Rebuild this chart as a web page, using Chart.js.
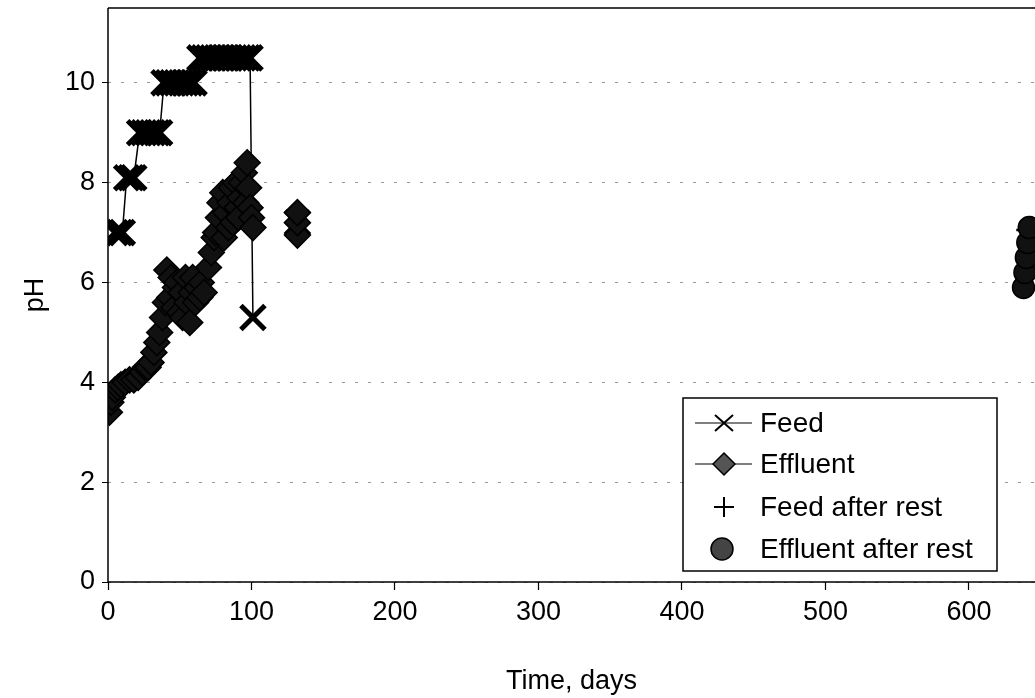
<!DOCTYPE html>
<html>
<head>
<meta charset="utf-8">
<script src="https://cdn.jsdelivr.net/npm/chart.js@4.4.0/dist/chart.umd.min.js"></script>
<style>
html, body { margin: 0; padding: 0; background: #fff; }
</style>
</head>
<body>
<canvas id="phChart" width="1035" height="698"></canvas>
<script>
// values (days, pH)
const feedDays = [5, 8, 10, 13, 16, 18, 22, 25, 28, 31, 34, 36, 39, 42, 45, 48, 51, 54, 57, 60, 64, 67, 70, 73, 76, 79, 82, 85, 88, 91, 94, 97, 99, 101, 115, 132];
const feedPH   = [7, 7, 7, 8.1, 8.1, 8.1, 9, 9, 9, 9, 9, 9, 10, 10, 10, 10, 10, 10, 10, 10, 10.5, 10.5, 10.5, 10.5, 10.5, 10.5, 10.5, 10.5, 10.5, 10.5, 10.5, 10.5, 10.5, 5.3, null, 7.2];

const effluentDays = [1, 2, 3, 5, 7, 9, 12, 15, 18, 21, 24, 26, 28, 30, 32, 34, 36, 38, 40, 41, 43, 44, 46, 47, 48, 50, 51, 52, 54, 55, 57, 58, 59, 61, 62, 64, 65, 67,
                      70, 72, 74, 75, 77, 78, 80, 81, 82, 84, 85, 86, 87, 89, 90, 91, 92, 93, 95, 96, 97, 98, 99, 100, 101, 115, 132, 132, 132];
const effluentPH   = [3.4, 3.6, 3.7, 3.85, 3.9, 3.95, 4.0, 4.05, 4.05, 4.1, 4.2, 4.3, 4.3, 4.4, 4.6, 4.8, 5.0, 5.3, 5.6, 6.25, 5.7, 6.1, 5.5, 5.9, 6.0, 5.4, 5.8, 5.3, 6.1, 5.6, 5.2, 5.8, 6.1, 5.6, 5.9, 5.7, 6.0, 5.8,
                      6.3, 6.6, 6.9, 7.0, 7.3, 7.6, 7.8, 6.9, 7.4, 7.1, 7.6, 7.9, 7.2, 8.0, 7.5, 7.3, 7.7, 8.0, 8.2, 7.6, 8.4, 7.9, 7.5, 7.3, 7.1, null, 6.95, 7.2, 7.4];

const feedRestDays = [642];
const feedRestPH   = [7.05];

const effluentRestDays = [638, 639, 640, 641, 642];
const effluentRestPH   = [5.9, 6.2, 6.5, 6.8, 7.1];

const seriesNames = ['Feed', 'Effluent', 'Feed after rest', 'Effluent after rest'];

function toPoints(xs, ys) {
    return xs.map((x, i) => ({ x: x, y: ys[i] }));
}

const font = 'Liberation Sans, Arial, sans-serif';

// legend box, axis lines and top frame line
const frameAndLegend = {
    id: 'frameAndLegend',
    afterDatasetsDraw(chart) {
        const ctx = chart.ctx;
        const area = chart.chartArea;
        ctx.save();
        ctx.strokeStyle = '#000';
        ctx.lineWidth = 1.5;
        ctx.setLineDash([]);
        ctx.beginPath();
        ctx.moveTo(area.left, area.top);
        ctx.lineTo(area.right, area.top);
        ctx.moveTo(area.left, area.top);
        ctx.lineTo(area.left, area.bottom);
        ctx.lineTo(area.right, area.bottom);
        ctx.stroke();

        // legend
        const bx = 683, by = 398, bw = 314, bh = 173;
        ctx.fillStyle = '#fff';
        ctx.fillRect(bx, by, bw, bh);
        ctx.strokeRect(bx, by, bw, bh);

        const rowY = [423, 464, 507, 549];
        const sx = 724;
        ctx.font = '28px ' + font;
        ctx.textBaseline = 'middle';
        ctx.textAlign = 'left';
        seriesNames.forEach((name, i) => {
            const y = rowY[i];
            ctx.strokeStyle = '#000';
            ctx.fillStyle = '#000';
            if (i < 2) {
                ctx.lineWidth = 1.2;
                ctx.beginPath();
                ctx.moveTo(695, y);
                ctx.lineTo(752, y);
                ctx.stroke();
            }
            ctx.lineWidth = 2;
            ctx.beginPath();
            if (i === 0) {
                ctx.moveTo(sx - 9, y - 8); ctx.lineTo(sx + 9, y + 8);
                ctx.moveTo(sx - 9, y + 8); ctx.lineTo(sx + 9, y - 8);
                ctx.stroke();
            } else if (i === 1) {
                ctx.moveTo(sx - 11, y); ctx.lineTo(sx, y - 11);
                ctx.lineTo(sx + 11, y); ctx.lineTo(sx, y + 11);
                ctx.closePath();
                ctx.fillStyle = '#555';
                ctx.fill();
                ctx.lineWidth = 1.5;
                ctx.stroke();
            } else if (i === 2) {
                ctx.moveTo(sx - 10, y); ctx.lineTo(sx + 10, y);
                ctx.moveTo(sx, y - 10); ctx.lineTo(sx, y + 10);
                ctx.stroke();
            } else {
                ctx.arc(sx - 2, y, 11, 0, Math.PI * 2);
                ctx.fillStyle = '#444';
                ctx.fill();
                ctx.lineWidth = 1.5;
                ctx.stroke();
            }
            ctx.fillStyle = '#000';
            ctx.fillText(name, 760, y + 1);
        });
        ctx.restore();
    }
};

function noEdgePadding(scale) {
    scale.paddingLeft = 0;
    scale.paddingRight = 0;
    scale.paddingTop = 0;
    scale.paddingBottom = 0;
}

const ctx = document.getElementById('phChart').getContext('2d');
const phChart = new Chart(ctx, {
    type: 'scatter',
    data: {
        datasets: [{
            label: seriesNames[0],
            data: toPoints(feedDays, feedPH),
            showLine: true,
            borderColor: '#000',
            borderWidth: 1.5,
            pointStyle: 'crossRot',
            pointRadius: 17,
            pointBorderWidth: 5,
            pointBorderColor: '#000',
            order: 3
        }, {
            label: seriesNames[1],
            data: toPoints(effluentDays, effluentPH),
            showLine: true,
            borderColor: '#000',
            borderWidth: 1.5,
            pointStyle: 'rectRot',
            pointRadius: 13,
            pointBackgroundColor: '#111',
            pointBorderColor: '#000',
            pointBorderWidth: 1.5,
            order: 2
        }, {
            label: seriesNames[2],
            data: toPoints(feedRestDays, feedRestPH),
            pointStyle: 'cross',
            pointRadius: 13,
            pointBorderWidth: 2.5,
            pointBorderColor: '#000',
            order: 1
        }, {
            label: seriesNames[3],
            data: toPoints(effluentRestDays, effluentRestPH),
            pointStyle: 'circle',
            pointRadius: 11,
            pointBackgroundColor: '#111',
            pointBorderColor: '#000',
            pointBorderWidth: 1.5,
            order: 0
        }]
    },
    options: {
        responsive: false,
        animation: false,
        layout: { autoPadding: false, padding: { top: 8, right: 0, left: 0, bottom: 0 } },
        plugins: {
            legend: { display: false },
            tooltip: { enabled: false }
        },
        scales: {
            x: {
                type: 'linear',
                min: 0,
                max: 646,
                border: { display: false },
                grid: { drawOnChartArea: false, drawTicks: true, tickLength: 8, tickColor: '#000', tickWidth: 1.2 },
                ticks: {
                    stepSize: 100,
                    includeBounds: false,
                    maxRotation: 0,
                    padding: 6,
                    color: '#000',
                    font: { family: font, size: 27 }
                },
                title: {
                    display: true,
                    text: 'Time, days',
                    color: '#000',
                    font: { family: font, size: 27 },
                    padding: { top: 6, bottom: 0 }
                },
                afterFit(scale) { scale.height = 116; noEdgePadding(scale); }
            },
            y: {
                min: 0,
                max: 11.5,
                border: { display: false, dash: [3, 10] },
                grid: {
                    color: 'rgba(0,0,0,0.4)',
                    lineWidth: 1,
                    tickBorderDash: [1, 0],
                    tickColor: '#000',
                    tickWidth: 1.2,
                    tickLength: 6
                },
                ticks: {
                    stepSize: 2,
                    includeBounds: false,
                    padding: 7,
                    color: '#000',
                    font: { family: font, size: 27 }
                },
                title: {
                    display: true,
                    text: 'pH',
                    color: '#000',
                    font: { family: font, size: 27 },
                    padding: { top: 19, bottom: 0 }
                },
                afterFit(scale) { scale.width = 108; noEdgePadding(scale); }
            }
        }
    },
    plugins: [frameAndLegend]
});
</script>
</body>
</html>
